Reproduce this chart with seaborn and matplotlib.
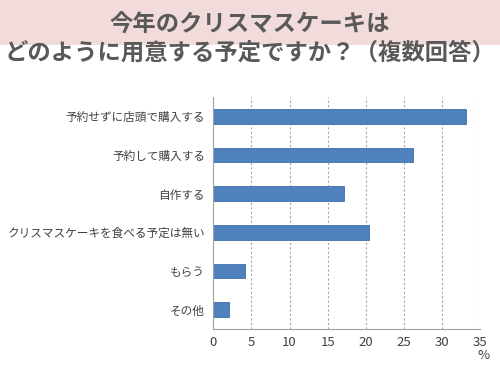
import matplotlib
matplotlib.use("Agg")
import matplotlib.pyplot as plt
import seaborn as sns
import pandas as pd
import numpy as np
from matplotlib.patches import Rectangle

categories = ["予約せずに店頭で購入する", "予約して購入する", "自作する",
              "クリスマスケーキを食べる予定は無い", "もらう", "その他"]
values = [33.1, 26.2, 17.1, 20.4, 4.1, 2.1]
xticks = [0, 5, 10, 15, 20, 25, 30, 35]
title_lines = ["今年のクリスマスケーキは", "どのように用意する予定ですか？（複数回答）"]

sns.set_style("white")
plt.rcParams['font.family'] = ['Noto Sans CJK JP', 'DejaVu Sans']

df = pd.DataFrame({"cat": categories, "val": values})

fig = plt.figure(figsize=(5, 3.75), dpi=100)
fig.patch.set_facecolor("white")
fig.add_artist(Rectangle((0, 0.88), 1, 0.12, transform=fig.transFigure,
                         facecolor="#F2DCDB", edgecolor="none", zorder=0))
fig.text(0.5, 0.933, title_lines[0], ha="center", va="center", fontsize=16.8,
         color="#595959", fontweight="bold")
fig.text(0.5, 0.861, title_lines[1], ha="center", va="center", fontsize=16.8,
         color="#595959", fontweight="bold")

ax = fig.add_axes([0.4267, 0.1227, 0.5333, 0.619])
sns.barplot(data=df, x="val", y="cat", orient="h", ax=ax, color="#4F81BD",
            width=0.38, edgecolor="#3F6FA8", linewidth=0.6, saturation=1)
ax.set_xlim(0, 35)
ax.set_ylim(5.5, -0.5)
ax.set_xticks(xticks)
ax.set_xticklabels([str(t) for t in xticks], fontsize=9.5, color="#404040")
ax.set_xlabel("")
ax.set_ylabel("")
ax.tick_params(axis="y", which="major", length=0, labelsize=8.4, labelcolor="#404040", pad=6)
ax.set_yticks(np.arange(-0.5, 6, 1), minor=True)
ax.tick_params(axis="y", which="minor", length=4, color="#A0A0A0", direction="out")
ax.tick_params(axis="x", which="major", length=4, color="#A0A0A0", direction="inout", pad=3)
for x in xticks[1:]:
    ax.axvline(x, color="#A6A6A6", linestyle=(0, (2, 2)), linewidth=0.8, zorder=0)
for s in ["top", "right"]:
    ax.spines[s].set_visible(False)
for s in ["left", "bottom"]:
    ax.spines[s].set_color("#A0A0A0")
    ax.spines[s].set_linewidth(0.8)
ax.set_axisbelow(True)
fig.text(0.968, 0.053, "%", ha="center", va="center", fontsize=9.5, color="#404040")

fig.savefig("out.png", dpi=100)
